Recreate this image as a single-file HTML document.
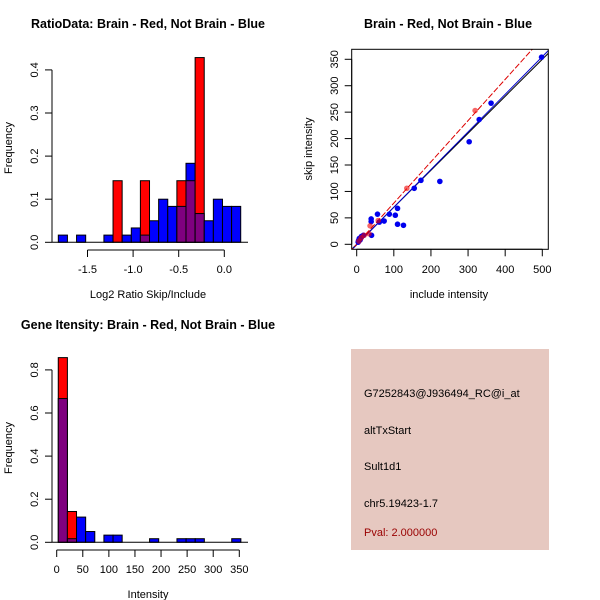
<!DOCTYPE html>
<html><head><meta charset="utf-8"><style>
body{margin:0;background:#fff}
svg{display:block;font-family:"Liberation Sans",sans-serif}
</style></head><body>
<svg id="c" width="600" height="600" viewBox="0 0 600 600">
<rect x="0" y="0" width="600" height="600" fill="#fff"/>
</svg>
<script>
// Ratio histogram (bins start -1.82, width 0.1)
const ratioBlue=[0.0167,0,0.0167,0,0,0.0167,0,0.0167,0.0333,0.0167,0.05,0.1,0.0833,0.0833,0.1833,0.0667,0.05,0.1,0.0833,0.0833];
const ratioRed=[0,0,0,0,0,0,0.1429,0,0,0.1429,0,0,0,0.1429,0.1429,0.4286,0,0,0,0];
const ratioXTicks=[-1.5,-1.0,-0.5,0.0];
const ratioXLabels=["-1.5","-1.0","-0.5","0.0"];
const ratioYTicks=[0,0.1,0.2,0.3,0.4];
const ratioYLabels=["0.0","0.1","0.2","0.3","0.4"];
// Intensity histogram (bins start 3, width 17.5)
const intBlue=[0.667,0.0167,0.117,0.05,0,0.0333,0.0333,0,0,0,0.0167,0,0,0.0167,0.0167,0.0167,0,0,0,0.0167];
const intRed=[0.857,0.143,0,0,0,0,0,0,0,0,0,0,0,0,0,0,0,0,0,0];
const intXTicks=[0,50,100,150,200,250,300,350];
const intYTicks=[0,0.2,0.4,0.6,0.8];
const intYLabels=["0.0","0.2","0.4","0.6","0.8"];
// Scatter
const blueX=[498,362,330,303,224,173,155,110,104,110,126,88,74,61,56,39,39,40,18,13,9,4,7,12,5];
const blueY=[354,267,236,194,119,121,106,68,55,38,36,57,44,42,57,48,43,17,17,15,8,4,11,13,7];
const redX=[36,33,319,135,58,20,12,6];
const redY=[35,20,253,106,45,17,12,6];
const scXTicks=[0,100,200,300,400,500];
const scYTicks=[0,50,100,150,200,250,300,350];
const fitBlack=[0,0.70];
const fitBlue=[-1,0.712];
const fitRed=[0,0.78];

const svg=document.getElementById('c');
const NS='http://www.w3.org/2000/svg';
function el(tag,attrs,parent,text){const e=document.createElementNS(NS,tag);for(const k in attrs)e.setAttribute(k,attrs[k]);if(text!==undefined)e.textContent=text;(parent||svg).appendChild(e);return e;}
function grp(name){const g=el('g',{});return g;}

function title(txt,x,y,name){const t=el('text',{x:x,y:y,'text-anchor':'middle','font-size':'12.5','font-weight':'bold'},svg,txt);}

function yAxis(g,x,ticks,labels,sy,labx){
  el('line',{x1:x,x2:x,y1:sy(ticks[0]),y2:sy(ticks[ticks.length-1]),stroke:'#000'},g);
  ticks.forEach((v,i)=>{const y=sy(v);el('line',{x1:x-7,x2:x,y1:y,y2:y,stroke:'#000'},g);
    el('text',{x:labx,y:y,'font-size':'11','text-anchor':'middle',transform:`rotate(-90 ${labx} ${y})`},g,labels[i]);});
}
function xAxis(g,y,ticks,labels,sx,laby){
  el('line',{x1:sx(ticks[0]),x2:sx(ticks[ticks.length-1]),y1:y,y2:y,stroke:'#000'},g);
  ticks.forEach((v,i)=>{const x=sx(v);el('line',{x1:x,x2:x,y1:y,y2:y+7,stroke:'#000'},g);
    el('text',{x:x,y:laby,'font-size':'11','text-anchor':'middle'},g,labels[i]);});
}
function hist(name,blue,red,start,w,sx,sy,gname){
  const g=grp(gname);
  for(let i=0;i<blue.length;i++){
    const x0=sx(start+i*w),x1=sx(start+(i+1)*w);
    const b=blue[i],r=red[i],lo=Math.min(b,r),hi=Math.max(b,r);
    if(hi>0){const r1=el('rect',{x:x0,y:sy(hi),width:x1-x0,height:sy(0)-sy(hi),fill:b>r?'#0000ff':'#ff0000',stroke:'#000','stroke-width':'1'},g);
      }
    if(lo>0){const r2=el('rect',{x:x0,y:sy(lo),width:x1-x0,height:sy(0)-sy(lo),fill:'#7f007f',stroke:'#000','stroke-width':'1'},g);
      }
  }
  return g;
}

// Panel 1
title('RatioData: Brain - Red, Not Brain - Blue',148,28,'ratio-title');
{
  const sx=v=>224.3+v*91.2, sy=v=>242.3-v*431;
  hist('ratio',ratioBlue,ratioRed,-1.82,0.1,sx,sy,'ratio-bars');
  el('line',{x1:52,x2:248,y1:242.3,y2:242.3,stroke:'#000'});
  const ya=grp('ratio-y-axis');yAxis(ya,52,ratioYTicks,ratioYLabels,sy,38);
  const xa=grp('ratio-x-axis');xAxis(xa,250,ratioXTicks,ratioXLabels,sx,273);
  const t=el('text',{x:148,y:298,'font-size':'11','text-anchor':'middle'},svg,'Log2 Ratio Skip/Include');
  const t2=el('text',{x:12,y:148,'font-size':'11','text-anchor':'middle',transform:'rotate(-90 12 148)'},svg,'Frequency');
}
// Panel 2
title('Brain - Red, Not Brain - Blue',448,28,'scatter-title');
{
  const sx=v=>356.7+v*0.3712, sy=v=>244.3-v*0.5286;
  const cp=el('clipPath',{id:'cp'});el('rect',{x:351.7,y:49.3,width:196.6,height:200},cp);
  const lg=grp('fit-lines');lg.setAttribute('clip-path','url(#cp)');
  const L=(f,c,d,n)=>{const l=el('line',{x1:sx(-20),y1:sy(f[0]+f[1]*-20),x2:sx(560),y2:sy(f[0]+f[1]*560),stroke:c,'stroke-width':1},lg);if(d)l.setAttribute('stroke-dasharray',d);};
  L(fitBlack,'#000',null,'identity-line');L(fitBlue,'#0000cc',null,'blue-fit-line');L(fitRed,'#dd0000','6 2','red-fit-line');
  const pb=grp('blue-points');
  blueX.forEach((x,i)=>{const c=el('circle',{cx:sx(x),cy:sy(blueY[i]),r:2.8,fill:'#0000ee'},pb);});
  const pr=grp('red-points');
  redX.forEach((x,i)=>{const c=el('circle',{cx:sx(x),cy:sy(redY[i]),r:2.8,fill:'#ee0000','fill-opacity':0.6},pr);});
  el('rect',{x:351.7,y:49.3,width:196.6,height:200,fill:'none',stroke:'#000'});
  const ya=grp('scatter-y-axis');yAxis(ya,351.7,scYTicks,scYTicks.map(String),sy,338);
  const xa=grp('scatter-x-axis');xAxis(xa,249.3,scXTicks,scXTicks.map(String),sx,273);
  const t=el('text',{x:449,y:298,'font-size':'11','text-anchor':'middle'},svg,'include intensity');
  const t2=el('text',{x:312,y:149,'font-size':'11','text-anchor':'middle',transform:'rotate(-90 312 149)'},svg,'skip intensity');
}
// Panel 3
title('Gene Itensity: Brain - Red, Not Brain - Blue',148,329,'intensity-title');
{
  const sx=v=>56.7+v*0.5217, sy=v=>542.3-v*215.5;
  hist('intensity',intBlue,intRed,3,17.5,sx,sy,'intensity-bars');
  el('line',{x1:52,x2:248,y1:542.3,y2:542.3,stroke:'#000'});
  const ya=grp('intensity-y-axis');yAxis(ya,52,intYTicks,intYLabels,sy,38);
  const xa=grp('intensity-x-axis');xAxis(xa,550,intXTicks,intXTicks.map(String),sx,573);
  const t=el('text',{x:148,y:598,'font-size':'11','text-anchor':'middle'},svg,'Intensity');
  const t2=el('text',{x:12,y:448,'font-size':'11','text-anchor':'middle',transform:'rotate(-90 12 448)'},svg,'Frequency');
}
// Info panel
{
  const g=grp('info-panel');
  el('rect',{x:351,y:349,width:198,height:201,fill:'#e6c8c0'},g);
  const lines=[['G7252843@J936494_RC@i_at',397,'#000','probe-id'],['altTxStart',434,'#000','event-type'],['Sult1d1',470,'#000','gene-name'],['chr5.19423-1.7',507,'#000','location'],['Pval: 2.000000',536,'#990000','pval']];
  lines.forEach(l=>{const t=el('text',{x:364,y:l[1],'font-size':'11',fill:l[2]},g,l[0]);});
}
</script>
</body></html>
